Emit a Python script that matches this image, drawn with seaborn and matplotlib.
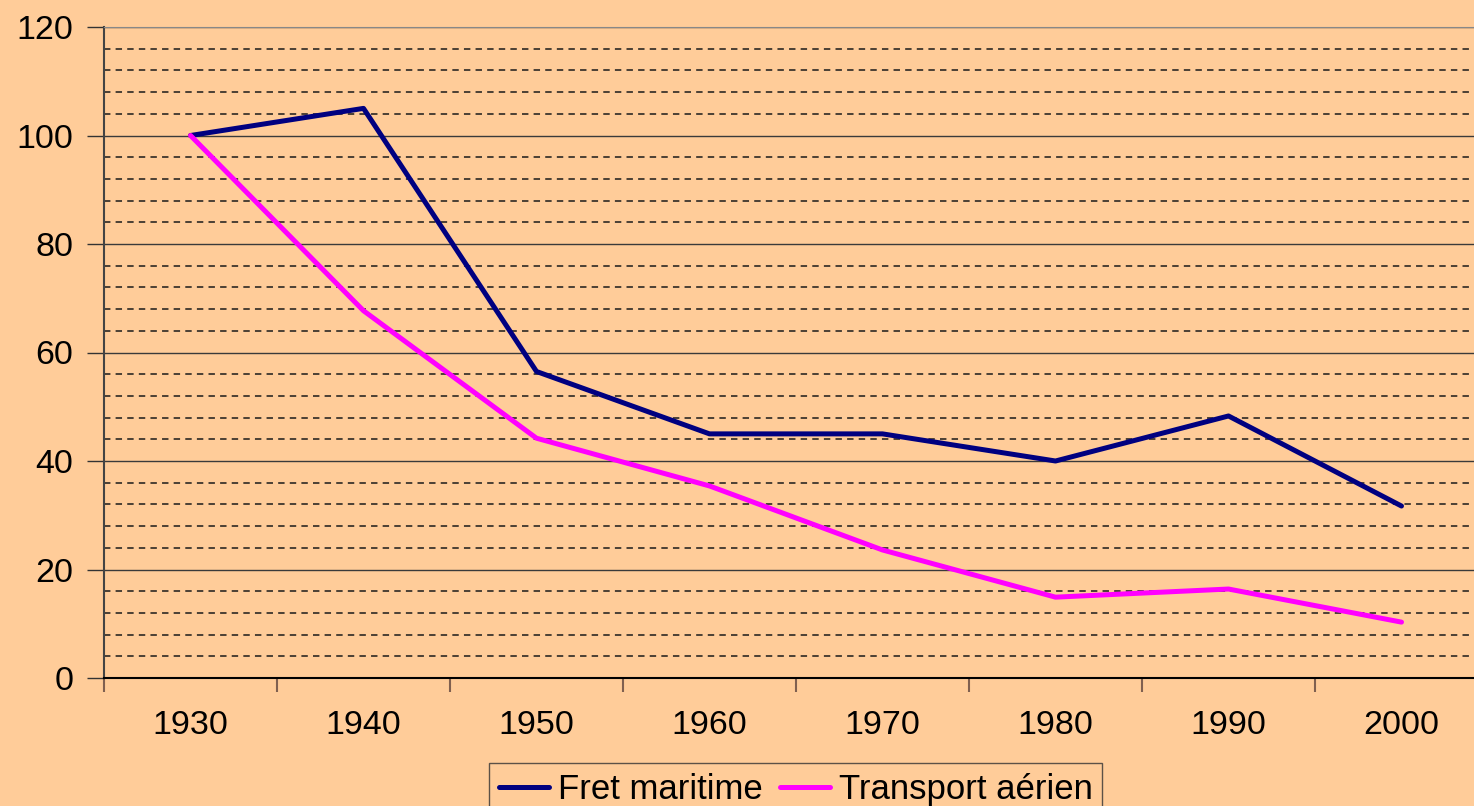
import pandas as pd
import numpy as np
import matplotlib
matplotlib.use("Agg")
import matplotlib.pyplot as plt
import seaborn as sns

# Values
years = ["1930", "1940", "1950", "1960", "1970", "1980", "1990", "2000"]
fret_maritime = [100, 105, 56.5, 45, 45, 40, 48.3, 31.7]
transport_aerien = [100, 67.7, 44.2, 35.4, 23.6, 14.9, 16.4, 10.3]

df = pd.DataFrame({
    "year": years * 2,
    "pos": list(range(len(years))) * 2,
    "value": fret_maritime + transport_aerien,
    "serie": ["Fret maritime"] * len(years) + ["Transport aérien"] * len(years),
})

sns.set_style("white")
plt.rcParams['font.family'] = ['Liberation Sans', 'DejaVu Sans']
plt.rcParams['text.color'] = 'black'
plt.rcParams['xtick.color'] = 'black'
plt.rcParams['ytick.color'] = 'black'

bg = "#FFCC99"
fig = plt.figure(figsize=(14.74, 8.06), dpi=100, facecolor=bg)
# plot area runs a bit past the right edge, like in the original
ax = fig.add_axes([104 / 1474, 1 - 678 / 806, 1384 / 1474, 651 / 806])
ax.set_facecolor(bg)

sns.lineplot(data=df, x="pos", y="value", hue="serie",
             palette={"Fret maritime": "#000080", "Transport aérien": "#FF00FF"},
             linewidth=3.6, ax=ax, legend=True)

ax.set_xlim(-0.5, len(years) - 0.5)
ax.set_ylim(0, 120)

# gridlines: solid every 20, dashed every 4
ax.set_yticks(np.arange(0, 121, 20))
ax.set_yticks(np.arange(0, 121, 4), minor=True)
ax.yaxis.grid(True, which="major", color="#3a3a3a", linewidth=1, linestyle="-")
ax.yaxis.grid(True, which="minor", color="#1a1a1a", linewidth=1.1, linestyle=(0, (4.2, 3.4)))
ax.set_axisbelow(True)
ax.tick_params(axis="y", which="major", left=True, direction="out", length=12, width=1,
               color="#333333", labelcolor="black", labelsize=24.5, pad=10)
ax.tick_params(axis="y", which="minor", left=False, length=0)

# x: labels at categories, tick marks between categories
ax.set_xticks(np.arange(-0.5, len(years), 1))
ax.set_xticklabels([])
ax.set_xticks(range(len(years)), minor=True)
ax.set_xticklabels(years, minor=True)
ax.tick_params(axis="x", which="major", bottom=True, direction="out", length=10, width=1.5,
               color="#806050")
ax.tick_params(axis="x", which="minor", bottom=True, length=0, labelsize=24.5,
               labelcolor="black", pad=23)

ax.set_xlabel("")
ax.set_ylabel("")

ax.spines["right"].set_visible(False)
ax.spines["top"].set_color("#888888")
ax.spines["left"].set_color("#444444")
ax.spines["left"].set_linewidth(1.5)
ax.spines["bottom"].set_color("black")
ax.spines["bottom"].set_linewidth(1.5)

leg = ax.legend(loc="upper left", bbox_to_anchor=(489 / 1474, 1 - 763 / 806),
                bbox_transform=fig.transFigure, ncol=2, frameon=True, fontsize=25,
                handlelength=1.44, columnspacing=0.5, handletextpad=0.26,
                borderpad=0.28, borderaxespad=0, fancybox=False)
leg.get_frame().set_facecolor(bg)
leg.get_frame().set_edgecolor("#333333")
leg.get_frame().set_linewidth(1)

fig.savefig("out.png", dpi=100, facecolor=bg)
